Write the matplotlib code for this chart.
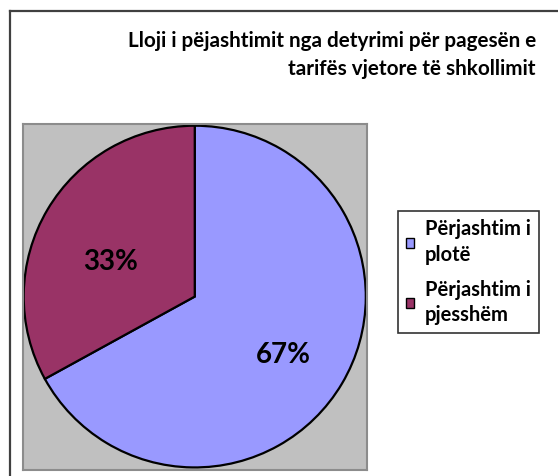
import matplotlib.pyplot as plt
from matplotlib.lines import Line2D

plt.rcParams['font.family'] = ['Lato', 'DejaVu Sans']

# data
labels = ['Përjashtim i\nplotë', 'Përjashtim i\npjesshëm']
shares = [67, 33]
colors = ['#9999FF', '#993366']
title = 'Lloji i pëjashtimit nga detyrimi për pagesën e\ntarifës vjetore të shkollimit'

W, H = 558, 476
fig = plt.figure(figsize=(W / 100, H / 100), dpi=100)

# outer chart frame (partly cut off in the original)
fig.add_artist(Line2D([9.5 / W, 9.5 / W], [0, 1 - 11 / H], color='#404040', lw=1.6))
fig.add_artist(Line2D([9.5 / W, 1], [1 - 11 / H, 1 - 11 / H], color='#404040', lw=1.6))

# plot area
ax = fig.add_axes([22.5 / W, 6 / H, 344.5 / W, 346 / H])

wedges, texts, autotexts = ax.pie(
    shares, colors=colors, startangle=90, counterclock=False,
    autopct='%d%%', pctdistance=0.6, frame=True,
    wedgeprops=dict(edgecolor='black', linewidth=1.6),
    textprops=dict(fontsize=20, fontweight='bold', color='black'))
# label placement as in the original
autotexts[0].set_position((0.52, -0.34))
autotexts[1].set_position((-0.49, 0.2))
ax.set_facecolor('#C0C0C0')
for sp in ax.spines.values():
    sp.set_visible(True)
    sp.set_color('#8C8C8C')
    sp.set_linewidth(1.5)
ax.set_xlim(-1.007, 1.007)
ax.set_ylim(-1.015, 1.01)
ax.set_aspect('auto')
ax.set_xticks([])
ax.set_yticks([])

fig.text(536 / W, 1 - 55 / H, title, ha='right', va='center', fontsize=14.9,
         fontweight='bold', linespacing=1.45)

leg = fig.legend(wedges, labels, loc='upper left',
                 bbox_to_anchor=(398 / W, 1 - 211 / H),
                 frameon=True, fancybox=False, edgecolor='black',
                 prop=dict(size=14.5, weight='bold'),
                 handlelength=0.4, handleheight=0.4, handletextpad=0.55,
                 borderpad=0.4, labelspacing=0.75, borderaxespad=0)
leg.get_frame().set_linewidth(1.2)
for t in leg.get_texts():
    t.set_linespacing(1.35)
for h in leg.legend_handles:
    h.set_edgecolor('black')
    h.set_linewidth(1.0)

fig.savefig('out.png', dpi=100)
